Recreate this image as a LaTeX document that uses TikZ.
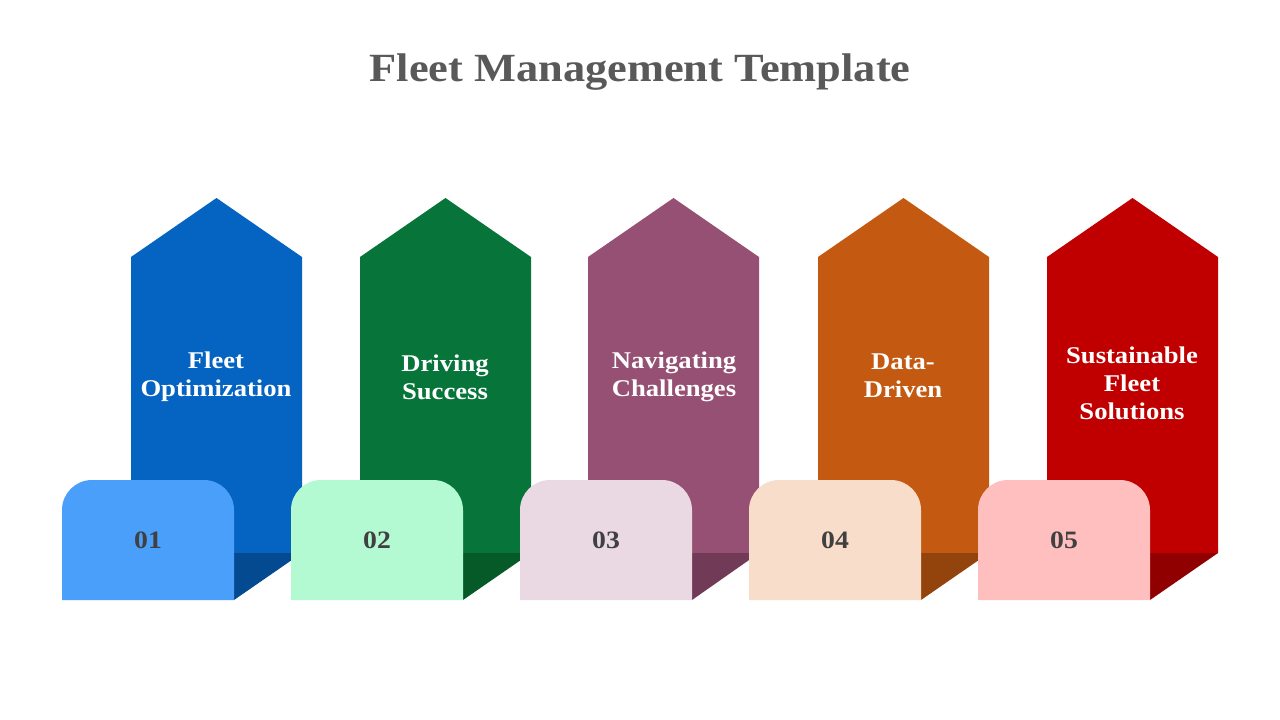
\documentclass[tikz,border=0pt]{standalone}
\usepackage{fontspec}
\setmainfont[FakeStretch=1.11]{Liberation Serif}
\begin{document}
\begin{tikzpicture}[x=1pt,y=-1pt,
  lbl/.style={font=\bfseries\fontsize{24}{28}\selectfont, text=white, align=center},
  num/.style={font=\bfseries\fontsize{25}{28}\selectfont, text=numgray},
]
\definecolor{titlegray}{HTML}{595959}
\definecolor{numgray}{HTML}{404040}
\definecolor{cA}{HTML}{0563C1}\definecolor{dA}{HTML}{044A91}\definecolor{tA}{HTML}{4A9FFA}
\definecolor{cB}{HTML}{07743A}\definecolor{dB}{HTML}{055A27}\definecolor{tB}{HTML}{B3F9D1}
\definecolor{cC}{HTML}{955073}\definecolor{dC}{HTML}{713A57}\definecolor{tC}{HTML}{EAD9E3}
\definecolor{cD}{HTML}{C45A11}\definecolor{dD}{HTML}{93440C}\definecolor{tD}{HTML}{F8DDCB}
\definecolor{cE}{HTML}{C00000}\definecolor{dE}{HTML}{900000}\definecolor{tE}{HTML}{FFBFBF}
\useasboundingbox (0,0) rectangle (1280,720);
\fill[white] (0,0) rectangle (1280,720);
\node[font=\bfseries\fontsize{40}{44}\selectfont, text=titlegray] (title) at (640,72) {Fleet Management Template};
\foreach \i/\ax/\tx/\c/\d/\t/\n in {1/131/62/cA/dA/tA/01, 2/360/291/cB/dB/tB/02, 3/588/520/cC/dC/tC/03, 4/818/749/cD/dD/tD/04, 5/1047/978/cE/dE/tE/05}{
  \fill[\c] (\ax,257) -- (\ax+85.5,198) -- (\ax+171,257) -- (\ax+171,553) -- (\ax,553) -- cycle;
  \fill[\d] (\tx+172,553) -- (\ax+171,553) -- (\tx+172,600) -- cycle;
  \fill[\t] (\tx,600) -- (\tx,510) arc[start angle=180,end angle=270,radius=30] -- (\tx+142,480) arc[start angle=270,end angle=360,radius=30] -- (\tx+172,600) -- cycle;
  \node[num] (n\i) at (\tx+86,540) {\n};
}
\node[lbl] (l1) at (216,377) {Fleet\\Optimization};
\node[lbl] (l2) at (445,377) {Driving\\Success};
\node[lbl] (l3) at (674,377) {Navigating\\Challenges};
\node[lbl] (l4) at (903,376) {Data-\\Driven};
\node[lbl] (l5) at (1132,383) {Sustainable\\Fleet\\Solutions};
\end{tikzpicture}
\end{document}
